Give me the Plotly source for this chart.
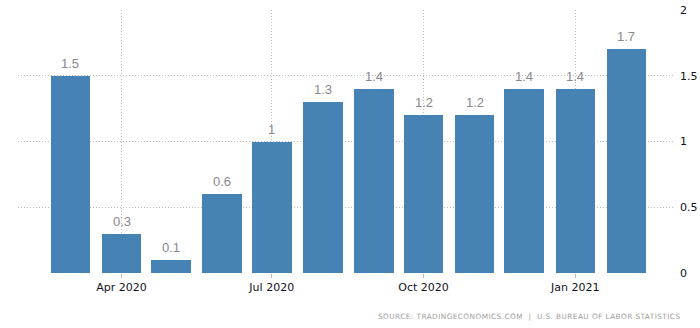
import plotly.graph_objects as go

# Monthly CPI change, %, Mar 2020 - Feb 2021
months = ["2020-03-01", "2020-04-01", "2020-05-01", "2020-06-01", "2020-07-01", "2020-08-01",
          "2020-09-01", "2020-10-01", "2020-11-01", "2020-12-01", "2021-01-01", "2021-02-01"]
values = [1.5, 0.3, 0.1, 0.6, 1, 1.3, 1.4, 1.2, 1.2, 1.4, 1.4, 1.7]
y_ticks = [0, 0.5, 1, 1.5, 2]
source_text = "SOURCE: TRADINGECONOMICS.COM&nbsp; | &nbsp;U.S. BUREAU OF LABOR STATISTICS"

DAY_MS = 24 * 3600 * 1000
bar_color = "#4682b4"
grid_color = "#bdbdbd"

fig = go.Figure()
fig.add_trace(go.Bar(
    x=months, y=values,
    width=[24 * DAY_MS] * len(values),
    marker=dict(color=bar_color, line=dict(width=0)),
    hoverinfo="x+y",
))

# value labels above each bar
for m, v in zip(months, values):
    fig.add_annotation(
        x=m, y=v, text=f"{v:g}", showarrow=False,
        xref="x", yref="y", yanchor="bottom", yshift=3,
        font=dict(family="Liberation Sans", size=13, color="#888890"),
    )

fig.add_annotation(
    x=1, xref="paper", xanchor="right", xshift=7,
    y=0, yref="paper", yanchor="top", yshift=-37,
    text=f'<span style="letter-spacing:0.45px">{source_text}</span>',
    showarrow=False,
    font=dict(family="DejaVu Sans", size=7.3, color="#9c9c9c"),
)

fig.update_layout(
    width=700, height=328,
    margin=dict(l=18, r=25, t=10, b=55),
    paper_bgcolor="white", plot_bgcolor="white",
    showlegend=False,
    bargap=0,
    xaxis=dict(
        type="date", automargin=False,
        range=["2020-01-29 05:00", "2021-03-02 10:00"],
        tick0="2020-01-01", dtick="M3", tickformat="%b %Y",
        showgrid=True, gridcolor=grid_color, griddash="1px,2px", gridwidth=1,
        ticks="outside", ticklen=4, tickcolor=grid_color,
        tickfont=dict(family="DejaVu Sans", size=11, color="#111122"),
        showline=False, zeroline=False,
    ),
    yaxis=dict(
        side="right", range=[0, 2], tickvals=y_ticks, automargin=False,
        showgrid=True, gridcolor=grid_color, griddash="1px,2px", gridwidth=1,
        zeroline=False, showline=False,
        tickfont=dict(family="DejaVu Sans", size=11, color="#111122"),
        ticklabelstandoff=4,
    ),
)

fig.write_html("out.html")
